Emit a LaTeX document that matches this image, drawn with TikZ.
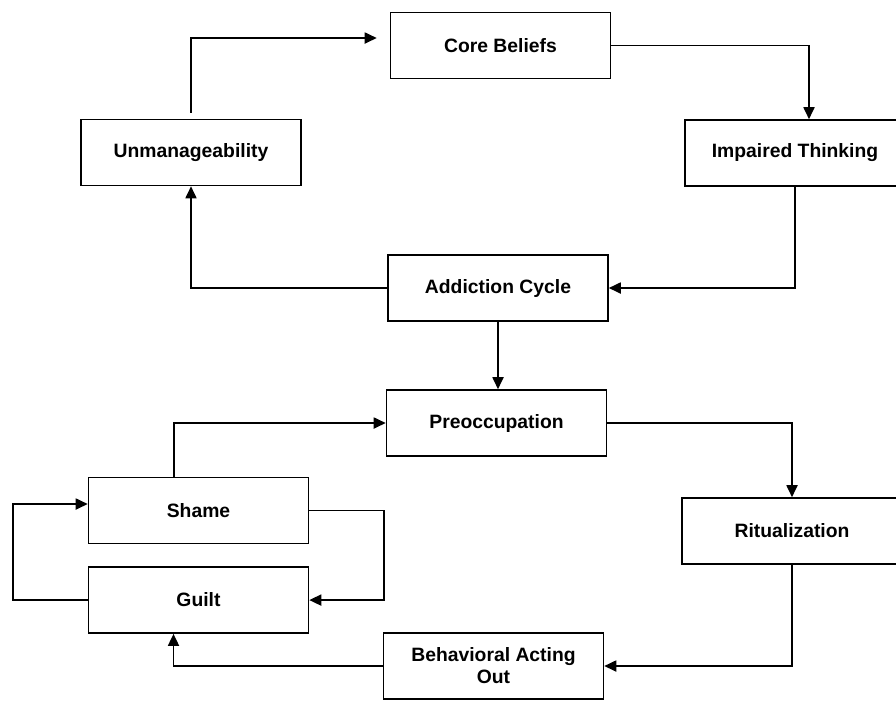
\documentclass[tikz,border=0pt]{standalone}
\usepackage{fontspec}
\setmainfont{Liberation Sans}
\usepackage{tikz}
\usetikzlibrary{positioning, arrows.meta}
\tikzstyle{stage} = [
    rectangle,
    draw,
    line width = 0.9pt,
    fill = white,
    text centered,
    align = center,
    font = \bfseries\fontsize{11}{12.5}\selectfont,
    minimum width = 4.4cm,
    minimum height = 1.32cm
]
\tikzstyle{flow} = [
    draw,
    line width = 1pt,
    -{Triangle[length=0.24cm, width=0.22cm]}
]
\begin{document}
\begin{tikzpicture}[x=0.02cm, y=-0.02cm]

                \useasboundingbox (0,0) rectangle (896,701);
                \clip (0,0) rectangle (896,701);

                % upper cycle
                \node [stage] (core) at (500.5,45.5) {Core Beliefs};
                \node [stage] (unman) at (191,152.5) {Unmanageability};
                \node [stage] (impaired) at (795,153) {Impaired Thinking};
                \node [stage] (addiction) at (498,288) {Addiction Cycle};

                % lower cycle
                \node [stage] (preocc) at (496.5,423) {Preoccupation};
                \node [stage] (ritual) at (792,531) {Ritualization};
                \node [stage] (behav) at (493.5,666) {Behavioral Acting\\Out};
                \node [stage] (shame) at (198.5,510.5) {Shame};
                \node [stage, below = 0.44cm of shame] (guilt) {Guilt};

                % arrows, upper cycle
                \draw [flow, shorten <=0.12cm, shorten >=0.26cm] (unman.north) |- ([yshift=0.15cm]core.west);
                \draw [flow] (core.east) -| ([xshift=0.28cm]impaired.north);
                \draw [flow] (impaired.south) |- (addiction.east);
                \draw [flow] (addiction.west) -| (unman.south);
                \draw [flow] (addiction.south) -- (addiction.south |- preocc.north);

                % arrows, lower cycle
                \draw [flow] (preocc.east) -| (ritual.north);
                \draw [flow] (ritual.south) |- (behav.east);
                \draw [flow] (behav.west) -| ([xshift=-0.5cm]guilt.south);
                \draw [flow] ([xshift=-0.49cm]shame.north) |- (preocc.west);
                \draw [flow] (shame.east) -- ++(75,0) |- (guilt.east);
                \draw [flow] (guilt.west) -- ++(-75,0) |- ([yshift=0.13cm]shame.west);

            \end{tikzpicture}
\end{document}
